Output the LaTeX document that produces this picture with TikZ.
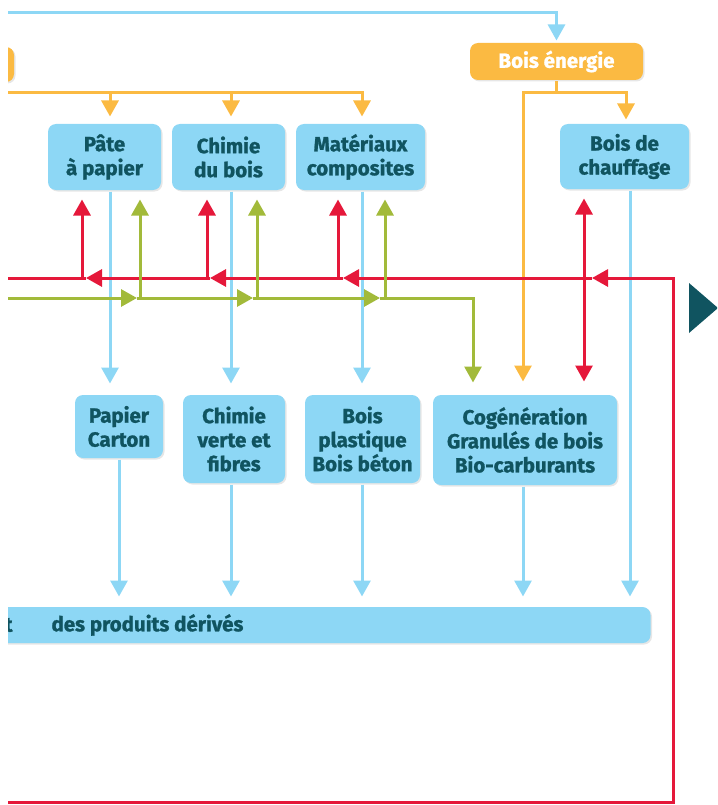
\documentclass[tikz,border=0pt]{standalone}
\usepackage{fontspec}
\setmainfont{Fira Sans}[BoldFeatures={FakeBold=1.2}]
\usetikzlibrary{positioning,arrows.meta,shadows}
\definecolor{myblue}{RGB}{141,215,245}
\definecolor{myorange}{RGB}{251,186,66}
\definecolor{myred}{RGB}{229,24,58}
\definecolor{mygreen}{RGB}{162,186,58}
\definecolor{myteal}{RGB}{16,84,96}

\begin{document}
\begin{tikzpicture}[x=1pt,y=-1pt,
    line width=3pt,
    font=\bfseries\fontsize{20.5}{24}\selectfont,
    box/.style={rounded corners=8pt,align=center,inner sep=0pt,
      drop shadow={shadow xshift=1.5pt,shadow yshift=-1.5pt,opacity=0.2}},
    bbox/.style={box,fill=myblue,text=myteal},
    obox/.style={box,fill=myorange,text=white},
    tip/.style={-{Triangle[length=16pt,width=17pt]}},
    bline/.style={myblue},
    oline/.style={myorange},
    rline/.style={myred},
    gline/.style={mygreen}
  ]
  \useasboundingbox (0,0) rectangle (717,805);
  \clip (8,0) rectangle (717,805);

  % the columns
  \coordinate (xa) at (110,0);
  \coordinate (xb) at (231,0);
  \coordinate (xc) at (362,0);
  \coordinate (xd) at (523,0);
  \coordinate (xe) at (630,0);
  \coordinate (xf) at (626,0);
  \coordinate (ry) at (0,278);
  \coordinate (gy) at (0,298);
  \coordinate (oy) at (0,93);

  % the boxes on top
  \node[obox,minimum width=120pt,minimum height=35pt] (bois) at (-46,64.5) {};
  \node[obox,minimum width=173pt,minimum height=37pt] (energie) at (556.5,61.5) {Bois énergie};
  \node[bbox,minimum width=113pt,minimum height=66pt] (pate) at (104.5,157) {Pâte\\à papier};
  \node[bbox,minimum width=113pt,minimum height=66pt] (chimie) at (228.5,157) {Chimie\\du bois};
  \node[bbox,minimum width=129pt,minimum height=66pt] (mat) at (360.5,157) {Matériaux\\composites};
  \node[bbox,minimum width=129pt,minimum height=65pt] (chauf) at (624.5,156.5) {Bois de\\chauffage};

  % the boxes below
  \node[bbox,minimum width=88pt,minimum height=63pt] (papier) at (119,426.5) {Papier\\Carton};
  \node[bbox,minimum width=102pt,minimum height=88pt] (verte) at (234,439) {Chimie\\verte et\\fibres};
  \node[bbox,minimum width=115pt,minimum height=88pt] (plast) at (362.5,439) {Bois\\plastique\\Bois béton};
  \node[bbox,minimum width=184pt,minimum height=90pt] (cogen) at (525,440) {Cogénération\\Granulés de bois\\Bio-carburants};

  % the bar
  \node[bbox,minimum width=900pt,minimum height=36pt,anchor=east] (derives) at (652,625) {};
  \node[text=myteal,anchor=east,inner sep=0pt] (tt) at (14,625) {t};
  \node[text=myteal,anchor=west,inner sep=0pt] (dtxt) at (50,625) {des produits dérivés};

  % the blue lines
  \draw[bline,tip,shorten >=1pt] (-100,13) -| (energie.north);
  \foreach \c/\a/\b in {xa/pate/papier,xb/chimie/verte,xc/mat/plast}
    \draw[bline,tip,shorten >=10pt] (\a.south -| \c) -- (\b.north -| \c);
  \draw[bline,tip,shorten >=9pt] (papier.south) -- (papier.south |- derives.north);
  \foreach \c/\a in {xb/verte,xc/plast,xd/cogen,xe/chauf}
    \draw[bline,tip,shorten >=9pt] (\a.south -| \c) -- (derives.north -| \c);

  % the orange lines
  \draw[oline,tip,shorten >=6pt] (bois.south) |- (oy -| xc) -- (mat.north -| xc);
  \foreach \c/\a in {xa/pate,xb/chimie}
    \draw[oline,tip,shorten >=6pt] (oy -| \c) -- (\a.north -| \c);
  \draw[oline] (energie.south) -- ++(0,11) coordinate (es);
  \draw[oline,tip,shorten >=12pt] (es) -| (cogen.north -| xd);
  \draw[oline,tip,shorten >=3pt] (es) -| (chauf.north -| xf);

  % the red loop
  \draw[rline,tip] (-100,802) -| (673,278) -- (592,278);
  \foreach \a/\b in {592/343,343/210,210/86}
    \draw[rline,tip] (\a,278) -- (\b,278);
  \draw[rline] (86,278) -- (-100,278);
  \foreach \x/\a in {82/pate,207/chimie,338/mat}
    \draw[rline,tip,shorten >=8pt] (ry -| \x,0) -- (\a.south -| \x,0);
  \draw[rline,{Triangle[length=16pt,width=17pt]}-{Triangle[length=16pt,width=17pt]},
    shorten <=8pt,shorten >=12pt] (chauf.south -| 584,0) -- (cogen.north -| 584,0);

  % the green line
  \draw[gline,tip] (-100,298) -- (137,298);
  \foreach \a/\b in {137/253,253/380}
    \draw[gline,tip] (\a,298) -- (\b,298);
  \draw[gline,tip,shorten >=11pt] (380,298) -| (cogen.north -| 473,0);
  \foreach \x/\a in {140/pate,257/chimie,385/mat}
    \draw[gline,tip,shorten >=8pt] (gy -| \x,0) -- (\a.south -| \x,0);

  % the pointer
  \fill[myteal] (689,283) -- (718,308) -- (689,333) -- cycle;
\end{tikzpicture}
\end{document}
